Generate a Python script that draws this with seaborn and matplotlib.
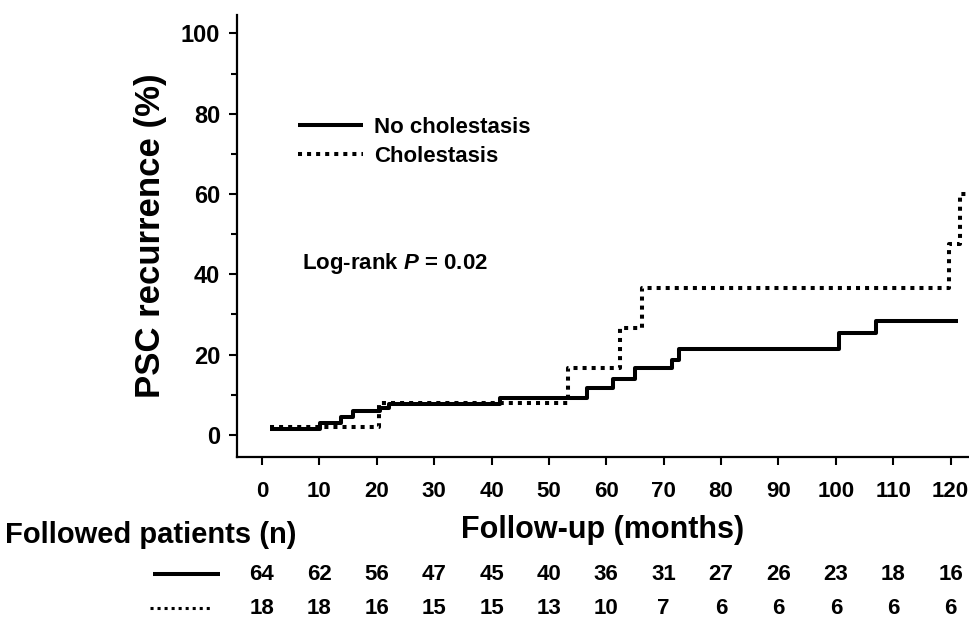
import numpy as np
import pandas as pd
import matplotlib
matplotlib.use("Agg")
import matplotlib.pyplot as plt
import matplotlib.transforms as mtransforms
from matplotlib.lines import Line2D
from matplotlib.ticker import MultipleLocator
import seaborn as sns

# Courbes de recurrence (mois, %)
no_chol_months = [1.4, 10.1, 13.7, 15.9, 20.6, 22.2, 41.5, 56.6, 61.1, 65.0, 71.4, 72.6, 100.6, 107.0, 121.2]
no_chol_pct = [1.4, 2.9, 4.4, 5.9, 6.8, 7.7, 9.3, 11.6, 13.9, 16.6, 18.7, 21.4, 25.3, 28.5, 28.5]

chol_months = [1.4, 20.4, 53.3, 62.3, 66.3, 119.8, 121.7, 122.7]
chol_pct = [1.9, 7.9, 16.6, 26.6, 36.6, 47.5, 59.9, 59.9]

# Patients suivis
risk_months = [0, 10, 20, 30, 40, 50, 60, 70, 80, 90, 100, 110, 120]
risk_no_chol = [64, 62, 56, 47, 45, 40, 36, 31, 27, 26, 23, 18, 16]
risk_chol = [18, 18, 16, 15, 15, 13, 10, 7, 6, 6, 6, 6, 6]

sns.set_style("ticks")
plt.rcParams['font.family'] = ['Liberation Sans', 'DejaVu Sans']
plt.rcParams['font.weight'] = 'bold'
plt.rcParams['mathtext.fontset'] = 'custom'
plt.rcParams['mathtext.it'] = 'Liberation Sans:italic:bold'
plt.rcParams['mathtext.rm'] = 'Liberation Sans:bold'
for key in ['text.color', 'axes.labelcolor', 'xtick.color', 'ytick.color', 'axes.edgecolor']:
    plt.rcParams[key] = 'black'

fig = plt.figure(figsize=(9.69, 6.21), dpi=100)
ax = fig.add_axes([0.2443, 0.2641, 0.7557, 0.7117])

df1 = pd.DataFrame({"month": no_chol_months, "pct": no_chol_pct})
df2 = pd.DataFrame({"month": chol_months, "pct": chol_pct})

lw = 2.9
dot_style = (0, (1, 1.25))
sns.lineplot(data=df1, x="month", y="pct", ax=ax, color="black", lw=lw,
             drawstyle="steps-post", estimator=None, solid_capstyle="butt")
sns.lineplot(data=df2, x="month", y="pct", ax=ax, color="black", lw=lw,
             drawstyle="steps-post", estimator=None, ls=dot_style, dash_capstyle="butt")

ax.set_xlim(-4.4, 123.2)
ax.set_ylim(-5.5, 104.6)
ax.set_xticks(risk_months)
ax.yaxis.set_major_locator(MultipleLocator(20))
ax.yaxis.set_minor_locator(MultipleLocator(10))
ax.set_yticks([0, 20, 40, 60, 80, 100])
sns.despine(ax=ax)
for s in ["left", "bottom"]:
    ax.spines[s].set_linewidth(1.6)
    ax.spines[s].set_color("black")
ax.tick_params(axis="both", which="major", length=6, width=1.5, direction="out", colors="black")
ax.tick_params(axis="y", which="minor", length=4.5, width=1.5, colors="black")
ax.tick_params(axis="y", labelsize=17, pad=6)
ax.tick_params(axis="x", labelsize=16, pad=11)
for lab in ax.get_xticklabels() + ax.get_yticklabels():
    lab.set_fontweight("bold")

ax.set_xlabel("Follow-up (months)", fontsize=22, fontweight="bold", labelpad=10)
ax.set_ylabel("PSC recurrence (%)", fontsize=25, fontweight="bold", labelpad=10)

handles = [Line2D([], [], color="black", lw=lw, solid_capstyle="butt"),
           Line2D([], [], color="black", lw=lw, ls=dot_style, dash_capstyle="butt")]
ax.legend(handles, ["No cholestasis", "Cholestasis"], loc="center left",
          bbox_to_anchor=(0.084, 0.713), frameon=False,
          handlelength=2.9, handletextpad=0.5, labelspacing=0.35,
          borderpad=0, borderaxespad=0, prop={"weight": "bold", "size": 16})

ax.text(6.9, 42.8, "Log-rank $P$ = 0.02", fontsize=16, fontweight="bold",
        va="center", ha="left")

# Tableau des patients suivis
trans = mtransforms.blended_transform_factory(ax.transData, fig.transFigure)
row_y = [1 - 574 / 621, 1 - 608 / 621]
for m, a, b in zip(risk_months, risk_no_chol, risk_chol):
    ax.text(m, row_y[0], str(a), transform=trans, ha="center", va="center",
            fontsize=16, fontweight="bold", clip_on=False)
    ax.text(m, row_y[1], str(b), transform=trans, ha="center", va="center",
            fontsize=16, fontweight="bold", clip_on=False)

fig.text(5 / 969, 1 - 535 / 621, "Followed patients (n)", fontsize=21,
         fontweight="bold", ha="left", va="center")
fig.add_artist(Line2D([153 / 969, 220 / 969], [row_y[0], row_y[0]], color="black",
                      lw=lw, solid_capstyle="butt", transform=fig.transFigure))
fig.add_artist(Line2D([150 / 969, 213 / 969], [row_y[1], row_y[1]], color="black",
                      lw=2.2, ls=(0, (1, 1.3)), dash_capstyle="butt",
                      transform=fig.transFigure))

fig.savefig("out.png", dpi=100)
